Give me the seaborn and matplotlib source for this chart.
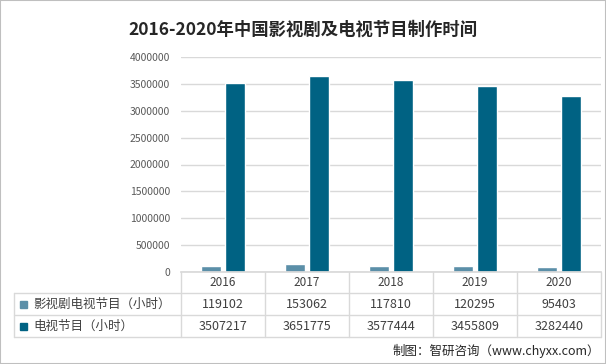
import matplotlib
matplotlib.use("Agg")
import matplotlib.pyplot as plt
from matplotlib.ticker import FuncFormatter
import seaborn as sns
import pandas as pd
from matplotlib.patches import Rectangle

years = ["2016", "2017", "2018", "2019", "2020"]
series_names = ["影视剧电视节目（小时）", "电视节目（小时）"]
drama_hours = [119102, 153062, 117810, 120295, 95403]
tv_hours = [3507217, 3651775, 3577444, 3455809, 3282440]
colors = ["#5b8fa8", "#006283"]
title = "2016-2020年中国影视剧及电视节目制作时间"
source = "制图：智研咨询（www.chyxx.com）"

df = pd.DataFrame({
    "year": years * 2,
    "series": [series_names[0]] * 5 + [series_names[1]] * 5,
    "value": drama_hours + tv_hours,
})

sns.set_theme(style="white")
plt.rcParams['font.family'] = ['Noto Sans CJK SC', 'DejaVu Sans']

W, H = 606, 364
fig = plt.figure(figsize=(W / 100, H / 100), dpi=100)
ax = fig.add_axes([181 / W, 1 - 272 / H, 420 / W, 215 / H])

sns.barplot(data=df, x="year", y="value", hue="series", palette=colors,
            width=0.58, gap=0.2, ax=ax, legend=False, saturation=1)

ax.set_ylim(0, 4000000)
ax.set_xlim(-0.5, 4.5)
ax.set_yticks(range(0, 4000001, 500000))
ax.yaxis.set_major_formatter(FuncFormatter(lambda v, p: "%d" % v))
ax.yaxis.grid(True, color="#d9d9d9", linewidth=1)
ax.set_axisbelow(True)
for s in ["left", "right", "top"]:
    ax.spines[s].set_visible(False)
ax.spines["bottom"].set_color("#d9d9d9")
ax.tick_params(axis="y", labelsize=7.5, colors="#595959", length=0, pad=8)
ax.set_xticks([])
ax.set_xlabel("")
ax.set_ylabel("")

# data table under the axis
line_kw = dict(color="#d9d9d9", linewidth=1, clip_on=False,
               transform=ax.transAxes)
left = (14 - 181) / 420
row_y = [-(293 - 272) / 215, -(315 - 272) / 215, -(337 - 272) / 215]
for y in row_y:
    ax.plot([left, 1], [y, y], **line_kw)
ax.plot([left, left], [row_y[0], row_y[2]], **line_kw)
for i in range(6):
    xa = i / 5
    ax.plot([xa, xa], [0, row_y[2]], **line_kw)

tr = ax.get_xaxis_transform()
cent = [-(283 - 272) / 215, -(304 - 272) / 215, -(326 - 272) / 215]
for i, yr in enumerate(years):
    ax.text(i, cent[0], yr, transform=tr, ha="center", va="center",
            fontsize=8.5, color="#404040", clip_on=False)
    ax.text(i, cent[1], str(drama_hours[i]), transform=tr, ha="center",
            va="center", fontsize=9, color="#404040", clip_on=False)
    ax.text(i, cent[2], str(tv_hours[i]), transform=tr, ha="center",
            va="center", fontsize=9, color="#404040", clip_on=False)

for k, name in enumerate(series_names):
    yc = cent[k + 1]
    ax.add_patch(Rectangle(((20 - 181) / 420, yc - 0.02), 7 / 420, 0.033,
                           transform=ax.transAxes, color=colors[k],
                           clip_on=False))
    ax.text((33 - 181) / 420, yc, name, transform=ax.transAxes, ha="left",
            va="center", fontsize=9, color="#404040", clip_on=False)

fig.text(0.5, 1 - 30 / H, title, ha="center", va="center", fontsize=12.5,
         fontweight="bold", color="#262626")
fig.text(600 / W, 1 - 351 / H, source, ha="right", va="center", fontsize=9,
         color="#262626")

fig.add_artist(Rectangle((0, 0), 1, 1, transform=fig.transFigure,
                         fill=False, edgecolor="#bfbfbf", linewidth=1.5))

fig.savefig("out.png", dpi=100)
